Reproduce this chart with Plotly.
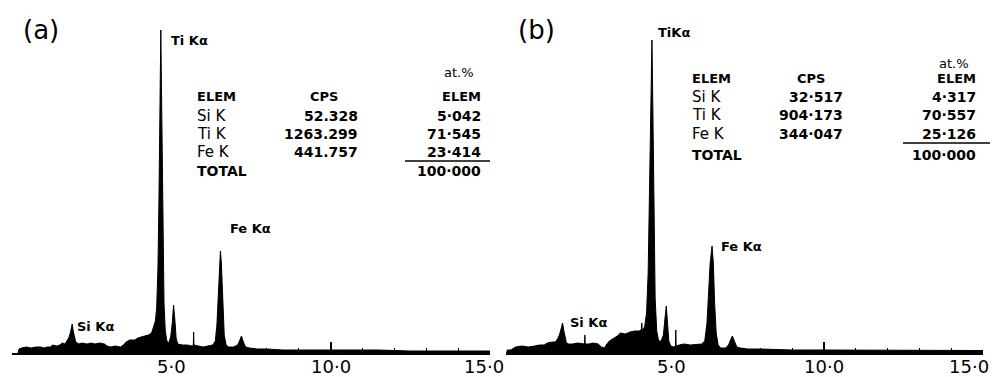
import plotly.graph_objects as go

# ---------------- data ----------------
energy_a = [0.19, 0.22, 0.3, 0.45, 0.6, 0.75, 0.9, 1.0, 1.1, 1.2, 1.28, 1.4, 1.5, 1.58, 1.66, 1.72, 1.78,
            1.83, 1.87, 1.89, 1.92, 1.96, 2.0, 2.1, 2.2, 2.35, 2.5, 2.6, 2.75, 2.9, 2.98, 3.1, 3.25, 3.4,
            3.5, 3.58, 3.7, 3.85, 3.95, 4.05, 4.15, 4.28, 4.38, 4.44, 4.5, 4.54, 4.58, 4.61, 4.64, 4.67,
            4.70, 4.73, 4.77, 4.81, 4.86, 4.92, 4.98, 5.03, 5.07, 5.11, 5.15, 5.2, 5.35, 5.5, 5.65, 5.69,
            5.70, 5.71, 5.85, 6.0, 6.15, 6.3, 6.38, 6.43, 6.47, 6.51, 6.54, 6.57, 6.61, 6.66, 6.72, 6.8,
            6.95, 7.08, 7.14, 7.2, 7.26, 7.33, 7.45, 7.7, 8.0, 8.5, 9.5, 10.5, 11.5, 12.5, 13.5, 14.5, 15.0]
counts_a = [0, 40, 50, 60, 50, 60, 60, 50, 60, 60, 80, 70, 80, 100, 90, 120, 150,
            200, 260, 290, 220, 150, 110, 90, 100, 90, 100, 90, 100, 90, 70, 60, 70, 60,
            80, 110, 130, 130, 150, 160, 170, 180, 200, 250, 320, 450, 850, 1500, 2500, 3230,
            2400, 1200, 500, 220, 120, 100, 160, 300, 480, 340, 150, 90, 80, 80, 70, 80,
            210, 80, 70, 60, 70, 80, 120, 280, 550, 850, 1020, 900, 500, 180, 80, 60,
            60, 80, 120, 170, 110, 60, 50, 40, 40, 30, 30, 30, 30, 20, 20, 20, 20]

energy_b = [0.02, 0.04, 0.15, 0.3, 0.5, 0.7, 0.9, 1.05, 1.2, 1.3, 1.45, 1.55, 1.62, 1.68, 1.74, 1.78,
            1.82, 1.86, 1.9, 1.97, 2.1, 2.25, 2.4, 2.47, 2.48, 2.49, 2.6, 2.75, 2.9, 3.0, 3.1, 3.15,
            3.25, 3.4, 3.5, 3.6, 3.75, 3.9, 4.05, 4.2, 4.26, 4.27, 4.28, 4.36, 4.42, 4.47, 4.51, 4.55,
            4.59, 4.62, 4.65, 4.69, 4.74, 4.8, 4.88, 4.95, 5.0, 5.04, 5.08, 5.12, 5.18, 5.28, 5.33,
            5.34, 5.35, 5.45, 5.6, 5.8, 6.0, 6.15, 6.25, 6.32, 6.37, 6.42, 6.48, 6.52, 6.56, 6.61,
            6.67, 6.75, 6.9, 7.0, 7.06, 7.12, 7.18, 7.26, 7.37, 7.6, 8.0, 9.0, 10.0, 11.0, 12.0,
            13.0, 14.0, 14.9, 15.0]
counts_b = [0, 30, 30, 60, 70, 60, 70, 80, 80, 100, 110, 110, 140, 180, 250, 300,
            220, 140, 100, 90, 90, 100, 90, 90, 180, 90, 90, 100, 90, 60, 50, 80,
            120, 150, 170, 200, 190, 210, 220, 220, 240, 300, 230, 260, 400, 800, 1500, 2500,
            3130, 2400, 1300, 550, 220, 120, 120, 180, 350, 470, 300, 120, 70, 60, 70,
            230, 70, 80, 90, 80, 90, 90, 120, 300, 600, 900, 1070, 900, 500, 200,
            80, 50, 50, 80, 130, 170, 120, 60, 50, 40, 40, 30, 30, 30, 25,
            25, 25, 25, 25]

tick_text = ["5·0", "10·0", "15·0"]
tick_pos_a = [5.0, 10.0, 14.8]
tick_pos_b = [5.2, 10.0, 14.55]

elements = ["Si K", "Ti K", "Fe K"]
cps_a = ["52.328", "1263.299", "441.757"]
at_a = ["5·042", "71·545", "23·414"]
total_a = "100·000"
cps_b = ["32·517", "904·173", "344·047"]
at_b = ["4·317", "70·557", "25·126"]
total_b = "100·000"

# ---------------- figure ----------------
W, H = 992, 377
PLOT_BOTTOM = 353  # pixel row of the energy axis

fig = go.Figure()
fig.add_trace(go.Scatter(x=energy_a, y=counts_a, mode="lines", fill="tozeroy",
                         line=dict(color="black", width=1), fillcolor="black",
                         xaxis="x", yaxis="y", showlegend=False, hoverinfo="skip"))
fig.add_trace(go.Scatter(x=energy_b, y=counts_b, mode="lines", fill="tozeroy",
                         line=dict(color="black", width=1), fillcolor="black",
                         xaxis="x2", yaxis="y2", showlegend=False, hoverinfo="skip"))

def xax(domain):
    return dict(domain=domain, range=[0, 15], showgrid=False, zeroline=False,
                showline=True, linecolor="black", linewidth=2,
                ticks="inside", tickvals=[0, 5, 10, 15], ticklen=11, tickwidth=1.5,
                tickcolor="black", showticklabels=False,
                minor=dict(tickvals=list(range(1, 15)), ticks="inside", ticklen=5,
                           tickwidth=1, tickcolor="black"))

def yax(anchor):
    return dict(domain=[0, 1], range=[0, 3530], visible=False, anchor=anchor)

fig.update_layout(
    width=W, height=H,
    margin=dict(l=0, r=0, t=0, b=H - PLOT_BOTTOM),
    paper_bgcolor="white", plot_bgcolor="white",
    xaxis=xax([12 / W, 490 / W]),
    yaxis=yax("x"),
    xaxis2=dict(**xax([506 / W, 983 / W]), anchor="y2"),
    yaxis2=yax("x2"),
)

FONT = "DejaVu Sans"

def px(x, y):
    return x / W, (PLOT_BOTTOM - y) / PLOT_BOTTOM

def text(x, y, s, size=14, bold=False, xanchor="left"):
    xp, yp = px(x, y)
    fig.add_annotation(x=xp, y=yp, xref="paper", yref="paper", text=f"<b>{s}</b>" if bold else s,
                       showarrow=False, xanchor=xanchor, yanchor="middle",
                       font=dict(family=FONT, size=size, color="black"))

# panel labels
text(41, 30, "(a)", size=26, xanchor="center")
text(536, 30, "(b)", size=26, xanchor="center")

# peak labels
text(169, 40, "Ti Kα", size=13, bold=True)
text(228, 228, "Fe Kα", size=13, bold=True)
text(75, 326, "Si Kα", size=13, bold=True)
text(656, 33, "TiKα", size=13, bold=True)
text(719, 246, "Fe Kα", size=13, bold=True)
text(568, 322, "Si Kα", size=13, bold=True)

# quantification tables
def table(lx, cpsx, cps_center, atx, at_y, head_y, rows_y, total_y, line_x0, line_x1, line_y,
          cps, at, total):
    text(atx - 24, at_y, "at.%", size=13, xanchor="center")
    text(lx, head_y, "ELEM", size=13, bold=True)
    text(cps_center, head_y, "CPS", size=13, bold=True, xanchor="center")
    text(atx, head_y, "ELEM", size=13, bold=True, xanchor="right")
    for el, c, a, ry in zip(elements, cps, at, rows_y):
        text(lx, ry, el, size=15)
        text(cpsx, ry, c, size=14, bold=True, xanchor="right")
        text(atx, ry, a, size=14, bold=True, xanchor="right")
    text(lx, total_y, "TOTAL", size=14, bold=True)
    text(atx, total_y, total, size=14, bold=True, xanchor="right")
    x0, y0 = px(line_x0, line_y)
    x1, _ = px(line_x1, line_y)
    fig.add_shape(type="line", xref="paper", yref="paper", x0=x0, x1=x1, y0=y0, y1=y0,
                  line=dict(color="black", width=1.5))

table(195, 360, 324, 483, 72, 96, [116, 134, 152], 171, 405, 490, 161, cps_a, at_a, total_a)
table(690, 845, 811, 978, 63, 79, [97, 115, 134], 155, 903, 990, 143, cps_b, at_b, total_b)

# energy axis labels
for t, pos in zip(tick_text, tick_pos_a):
    fig.add_annotation(x=pos, y=0, xref="x", yref="y", text=t, showarrow=False,
                       xanchor="center", yanchor="top", yshift=-1,
                       font=dict(family=FONT, size=18, color="black"))
for t, pos in zip(tick_text, tick_pos_b):
    fig.add_annotation(x=pos, y=0, xref="x2", yref="y2", text=t, showarrow=False,
                       xanchor="center", yanchor="top", yshift=-1,
                       font=dict(family=FONT, size=18, color="black"))

fig.write_html("out.html", config={"displayModeBar": False},
               post_script="document.body.style.margin='0';document.body.style.padding='0';")
